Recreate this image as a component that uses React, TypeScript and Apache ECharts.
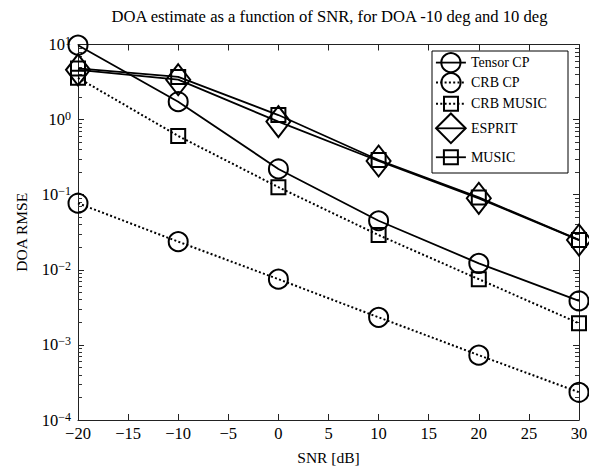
import React, { useEffect, useRef } from 'react';
import * as echarts from 'echarts';

// ---- data ----
const snr = [-20, -10, 0, 10, 20, 30];
const tensorCP = [9.8, 1.73, 0.22, 0.045, 0.0122, 0.00385];
const crbCP = [0.077, 0.0237, 0.0075, 0.00233, 0.00073, 0.000234];
const crbMUSIC = [3.6, 0.605, 0.126, 0.029, 0.0075, 0.00194];
const esprit = [4.6, 3.4, 0.94, 0.281, 0.0895, 0.0249];
const music = [4.8, 3.7, 1.15, 0.29, 0.092, 0.025];

const seriesNames = ['Tensor CP', 'CRB CP', 'CRB MUSIC', 'ESPRIT', 'MUSIC'];
const titleText = 'DOA estimate as a function of SNR, for DOA -10 deg and 10 deg';
const xName = 'SNR [dB]';
const yName = 'DOA RMSE';
const xMin = -20;
const xMax = 30;
const xStep = 5;
const yMin = 1e-4;
const yMax = 10;
const minorMultipliers = [2, 3, 4, 5, 6, 7, 8, 9];
const decadeExponents = [-4, -3, -2, -1, 0];

const FONT = "'Liberation Serif', 'Times New Roman', serif";

const minorTickExp: number[] = [];
decadeExponents.forEach((e) => minorMultipliers.forEach((m) => minorTickExp.push(Math.log10(m) + e)));

const pairs = (ys: number[]) => snr.map((x, i) => [x, ys[i]]);
const fmtNum = (v: number) => (v < 0 ? '\u2212' + Math.abs(v) : String(v));

type Spec = { name: string; ys: number[]; symbol: string; size: any; dotted: boolean; legendH: number; legendY: number };
const specs: Spec[] = [
  { name: seriesNames[0], ys: tensorCP, symbol: 'circle', size: 19, dotted: false, legendH: 24, legendY: 64 },
  { name: seriesNames[1], ys: crbCP, symbol: 'circle', size: 19, dotted: true, legendH: 24, legendY: 84 },
  { name: seriesNames[2], ys: crbMUSIC, symbol: 'rect', size: 14, dotted: true, legendH: 17.5, legendY: 104.5 },
  { name: seriesNames[3], ys: esprit, symbol: 'diamond', size: [24, 31], dotted: false, legendH: 37, legendY: 131 },
  { name: seriesNames[4], ys: music, symbol: 'rect', size: 14, dotted: false, legendH: 17.5, legendY: 158 },
];

const lineStyleOf = (dotted: boolean) => ({
  color: '#000',
  width: dotted ? 2 : 1.8,
  type: dotted ? [2, 2.3] : 'solid',
  cap: 'butt',
});
const hollow = { color: 'rgba(0,0,0,0)', borderColor: '#000', borderWidth: 2 };

export default function App() {
  const ref = useRef<HTMLDivElement>(null);
  useEffect(() => {
    document.body.style.margin = '0';
    if (!ref.current) return;
    const chart = echarts.init(ref.current, null, { renderer: 'svg' });
    const axisLine = { show: true, onZero: false, lineStyle: { color: '#222', width: 1 } };
    const noLine = { show: false, onZero: false };
    const option: any = {
      animation: false,
      backgroundColor: '#fff',
      title: {
        text: titleText,
        left: 329.5,
        top: 8,
        textAlign: 'center',
        padding: 0,
        textStyle: { fontFamily: FONT, fontSize: 16.6, fontWeight: 'normal', color: '#000' },
      },
      grid: { left: 78, right: 10, top: 44.5, bottom: 47, containLabel: false, outerBoundsMode: 'none' },
      xAxis: [
        {
          type: 'value', position: 'bottom', min: xMin, max: xMax, interval: xStep,
          axisLine, splitLine: { show: false },
          axisTick: { inside: true, length: 6, lineStyle: { color: '#222' } },
          axisLabel: { formatter: fmtNum, fontFamily: FONT, fontSize: 16.5, color: '#000', margin: 5 },
          name: xName, nameLocation: 'middle', nameGap: 29,
          nameTextStyle: { fontFamily: FONT, fontSize: 15.5, color: '#000' },
        },
        {
          type: 'value', position: 'top', min: xMin, max: xMax, interval: xStep,
          axisLine, splitLine: { show: false },
          axisTick: { inside: true, length: 6, lineStyle: { color: '#222' } },
          axisLabel: { show: false },
        },
      ],
      yAxis: [
        {
          type: 'log', logBase: 10, min: yMin, max: yMax, position: 'left',
          axisLine, splitLine: { show: false }, minorSplitLine: { show: false },
          axisTick: { inside: true, length: 6, lineStyle: { color: '#222' } },
          axisLabel: {
            margin: 7,
            fontFamily: FONT,
            fontSize: 16.5,
            color: '#000',
            formatter: (v: number) => {
              const e = Math.round(Math.log10(v));
              return `{b|10}{e|${e < 0 ? '\u2212' + -e : e}}`;
            },
            rich: {
              b: { fontFamily: FONT, fontSize: 16.5, color: '#000', lineHeight: 19 },
              e: { fontFamily: FONT, fontSize: 12, color: '#000', verticalAlign: 'top', lineHeight: 12 },
            },
          },
          name: yName, nameLocation: 'middle', nameGap: 49,
          nameTextStyle: { fontFamily: FONT, fontSize: 15.5, color: '#000' },
        },
        {
          type: 'log', logBase: 10, min: yMin, max: yMax, position: 'right',
          axisLine, splitLine: { show: false },
          axisTick: { inside: true, length: 6, lineStyle: { color: '#222' } },
          axisLabel: { show: false },
        },
        {
          type: 'value', min: -4, max: 1, position: 'left',
          axisLine: noLine, splitLine: { show: false }, axisLabel: { show: false },
          axisTick: { show: true, inside: true, length: 4, customValues: minorTickExp, lineStyle: { color: '#333', width: 1 } },
        },
        {
          type: 'value', min: -4, max: 1, position: 'right',
          axisLine: noLine, splitLine: { show: false }, axisLabel: { show: false },
          axisTick: { show: true, inside: true, length: 4, customValues: minorTickExp, lineStyle: { color: '#333', width: 1 } },
        },
      ],
      legend: specs.map((s) => ({
        data: [s.name],
        orient: 'vertical',
        left: 435,
        top: s.legendY - s.legendH / 2,
        padding: 0,
        itemWidth: 30,
        itemHeight: s.legendH,
        selectedMode: false,
        z: 10,
        itemStyle: hollow,
        lineStyle: lineStyleOf(s.dotted),
        textStyle: { fontFamily: FONT, fontSize: 14, color: '#000' },
      })),
      graphic: [
        {
          type: 'rect',
          z: 5,
          shape: { x: 432, y: 51, width: 136, height: 122 },
          style: { fill: '#fff', stroke: '#000', lineWidth: 1 },
        },
      ],
      series: specs.map((s) => ({
        name: s.name,
        type: 'line',
        xAxisIndex: 0,
        yAxisIndex: 0,
        data: pairs(s.ys),
        symbol: s.symbol,
        symbolSize: s.size,
        showSymbol: true,
        lineStyle: lineStyleOf(s.dotted),
        itemStyle: hollow,
        emphasis: { disabled: true },
        silent: true,
      })),
    };
    chart.setOption(option);
    return () => chart.dispose();
  }, []);
  return <div ref={ref} style={{ width: 589, height: 467 }} />;
}
